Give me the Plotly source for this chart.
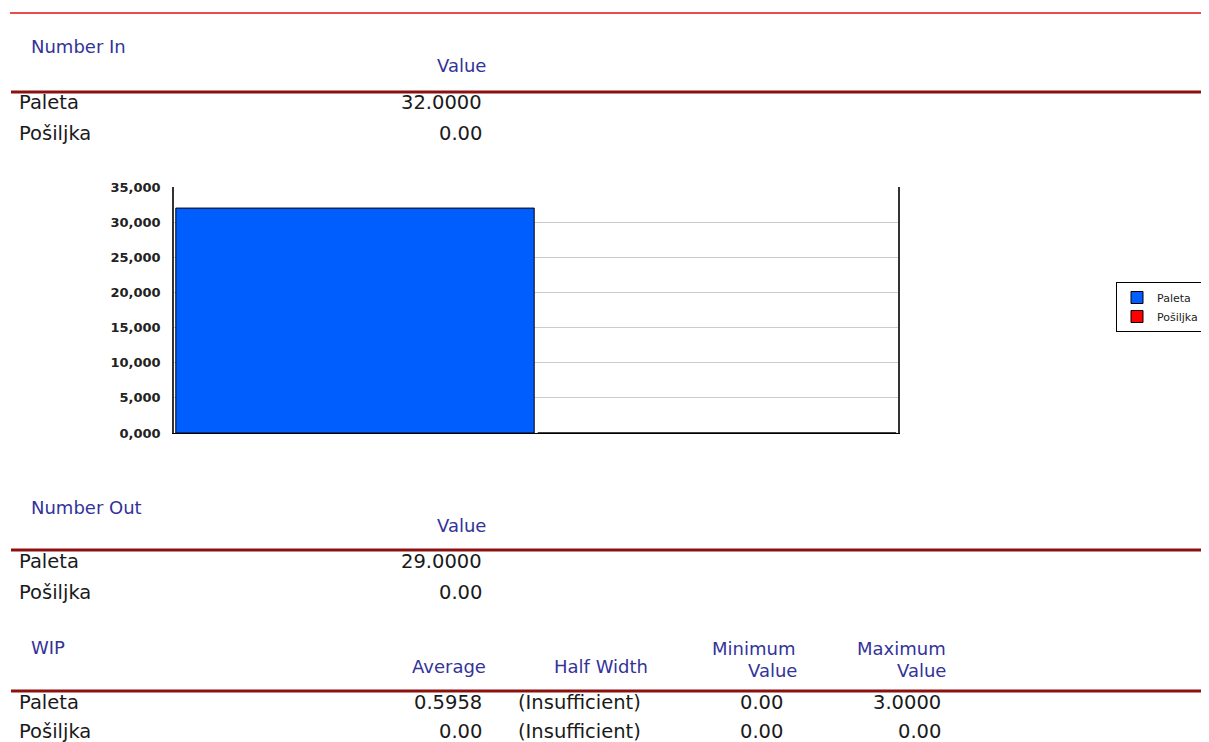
import plotly.graph_objects as go

# ---------------- data ----------------
entities = ["Paleta", "Pošiljka"]
number_in = [32.0, 0.0]
number_out = [29.0, 0.0]
wip_average = [0.5958, 0.0]
wip_half_width = ["(Insufficient)", "(Insufficient)"]
wip_minimum = [0.0, 0.0]
wip_maximum = [3.0, 0.0]
bar_colors = ["#005EFF", "#FF0000"]
tick_values = [0, 5, 10, 15, 20, 25, 30, 35]
tick_labels = ["0,000", "5,000", "10,000", "15,000", "20,000", "25,000", "30,000", "35,000"]

# page body has an 8px margin
OX, OY = 8, 8
FW, FH = 1201, 734
HEAD = "#333399"
TXT = "#1a1a1a"
RULE = "#8B1010"
FONT = "DejaVu Sans"


def fmt(v):
    return "0.00" if v == 0 else f"{v:.4f}"


def px(x):
    return (x - OX) / FW


def py(y):
    return 1 - (y - OY) / FH


fig = go.Figure()
for name, val, col in zip(entities, number_in, bar_colors):
    fig.add_trace(go.Bar(
        x=["Number In"], y=[val], name=name,
        marker=dict(color=col, line=dict(color="#000000", width=1)),
    ))

annotations = []
shapes = []


def text(x, y, s, anchor="left", head=False):
    shift = -2 if anchor == "left" else 2
    annotations.append(dict(
        x=px(x + shift), y=py(y), xref="paper", yref="paper", text=s, showarrow=False,
        xanchor=anchor, yanchor="middle",
        font=dict(family=FONT, size=18 if head else 19.5, color=HEAD if head else TXT),
    ))


def rule(y, color=RULE, width=3, x0=11):
    shapes.append(dict(type="line", xref="paper", yref="paper",
                       x0=px(x0), x1=1, y0=py(y), y1=py(y),
                       line=dict(color=color, width=width)))


# top red rule
rule(13, color="#E01010", width=1.5, x0=10)

# Number In
text(31, 47, "Number In", head=True)
text(486, 66, "Value", anchor="right", head=True)
rule(92)
for i, (e, v) in enumerate(zip(entities, number_in)):
    y = 103 + 30 * i
    text(19, y, e)
    text(482, y, fmt(v), anchor="right")

# Number Out
text(31, 507, "Number Out", head=True)
text(486, 525, "Value", anchor="right", head=True)
rule(550)
for i, (e, v) in enumerate(zip(entities, number_out)):
    y = 561 + 31 * i
    text(19, y, e)
    text(482, y, fmt(v), anchor="right")

# WIP
text(31, 647, "WIP", head=True)
text(486, 666, "Average", anchor="right", head=True)
text(648, 666, "Half Width", anchor="right", head=True)
text(795, 648, "Minimum", anchor="right", head=True)
text(797, 670, "Value", anchor="right", head=True)
text(946, 648, "Maximum", anchor="right", head=True)
text(946, 670, "Value", anchor="right", head=True)
rule(691)
for i, e in enumerate(entities):
    y = 702 + 29 * i
    text(19, y, e)
    text(482, y, fmt(wip_average[i]), anchor="right")
    text(641, y, wip_half_width[i], anchor="right")
    text(783, y, fmt(wip_minimum[i]), anchor="right")
    text(941, y, fmt(wip_maximum[i]), anchor="right")

fig.update_layout(
    width=FW, height=FH,
    margin=dict(l=0, r=0, t=0, b=0, pad=0, autoexpand=False),
    paper_bgcolor="white", plot_bgcolor="white",
    barmode="group", bargap=0.0, bargroupgap=0.01,
    showlegend=True,
    legend=dict(
        x=px(1116), y=py(282), xanchor="left", yanchor="top",
        bgcolor="white", bordercolor="#000000", borderwidth=1,
        font=dict(family=FONT, size=11, color="#222"),
        itemwidth=30, tracegroupgap=0,
    ),
    xaxis=dict(
        domain=[px(174), px(898)], automargin=False,
        showticklabels=False, showgrid=False, zeroline=False,
        showline=True, linecolor="#000000", linewidth=1, mirror=False,
        fixedrange=True,
    ),
    yaxis=dict(
        domain=[py(433), py(187)], automargin=False,
        range=[0, 35],
        tickvals=tick_values, ticktext=tick_labels,
        tickfont=dict(family=FONT, size=13, color="#222", weight="bold"),
        ticklabelstandoff=9,
        showgrid=True, gridcolor="#CCCCCC", gridwidth=1,
        zeroline=False,
        showline=True, linecolor="#333333", linewidth=1.5, mirror=True,
        fixedrange=True,
    ),
    annotations=annotations,
    shapes=shapes,
)

fig.write_html("out.html")
